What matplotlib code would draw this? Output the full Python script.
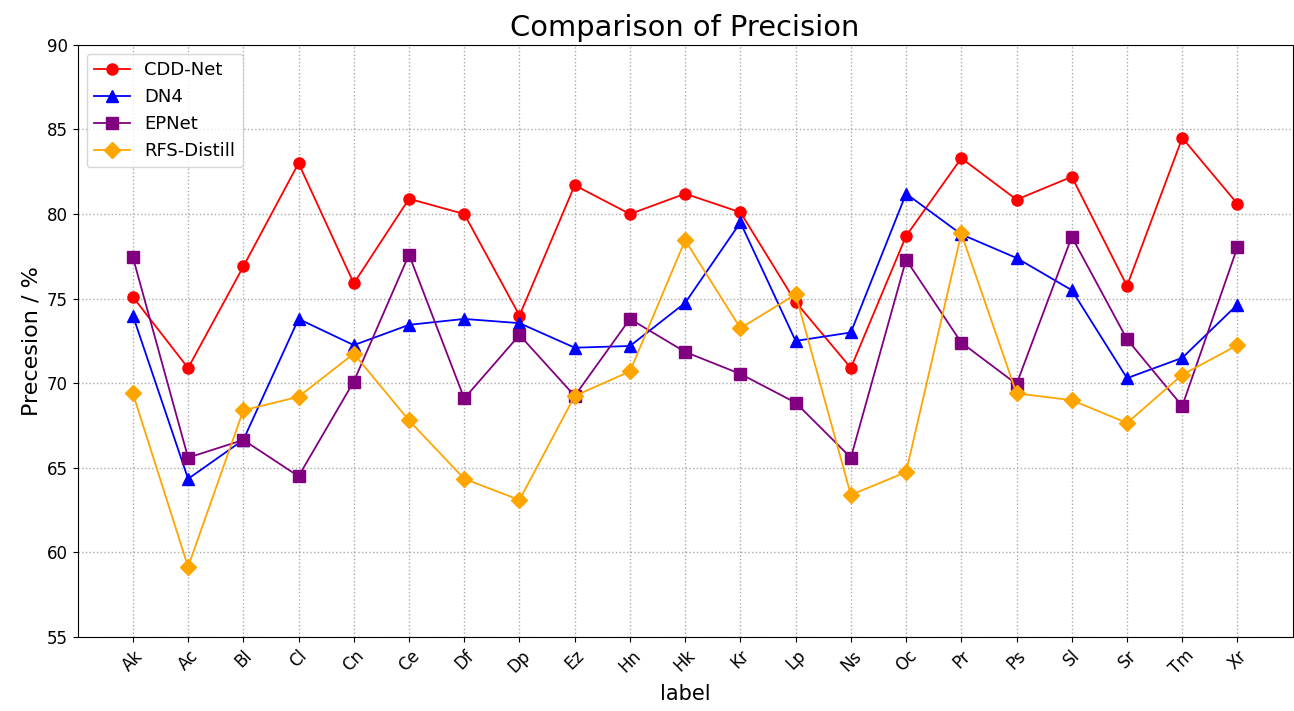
import matplotlib
matplotlib.use("Agg")
import matplotlib.pyplot as plt

labels = ["Ak", "Ac", "Bl", "Cl", "Cn", "Ce", "Df", "Dp", "Ez", "Hn", "Hk",
          "Kr", "Lp", "Ns", "Oc", "Pr", "Ps", "Sl", "Sr", "Tm", "Xr"]
cdd_net = [75.1, 70.9, 76.9, 83.0, 75.9, 80.9, 80.0, 74.0, 81.7, 80.0, 81.2,
           80.1, 74.8, 70.9, 78.7, 83.3, 80.85, 82.2, 75.75, 84.5, 80.6]
dn4 = [74.0, 64.35, 66.65, 73.8, 72.25, 73.45, 73.8, 73.55, 72.1, 72.2, 74.75,
       79.5, 72.5, 73.0, 81.2, 78.8, 77.4, 75.5, 70.3, 71.5, 74.65]
epnet = [77.45, 65.6, 66.65, 64.5, 70.1, 77.6, 69.1, 72.85, 69.25, 73.8, 71.85,
         70.55, 68.85, 65.6, 77.3, 72.4, 69.95, 78.65, 72.6, 68.65, 78.05]
rfs_distill = [69.4, 59.15, 68.4, 69.2, 71.75, 67.8, 64.35, 63.1, 69.25, 70.7, 78.45,
               73.25, 75.25, 63.4, 64.75, 78.85, 69.4, 69.0, 67.65, 70.5, 72.25]

fig, ax = plt.subplots(figsize=(12.94, 7.11), dpi=100)
x = range(len(labels))
ax.plot(x, cdd_net, color="red", marker="o", markersize=8, linewidth=1.3, label="CDD-Net")
ax.plot(x, dn4, color="blue", marker="^", markersize=8, linewidth=1.3, label="DN4")
ax.plot(x, epnet, color="purple", marker="s", markersize=8, linewidth=1.3, label="EPNet")
ax.plot(x, rfs_distill, color="orange", marker="D", markersize=8, linewidth=1.3, label="RFS-Distill")

ax.set_xticks(list(x))
ax.set_xticklabels(labels, rotation=45, fontsize=12)
ax.tick_params(axis="y", labelsize=12)
ax.set_ylim(55, 90)
ax.set_yticks([55, 60, 65, 70, 75, 80, 85, 90])
ax.set_xlabel("label", fontsize=15)
ax.set_ylabel("Precesion / %", fontsize=16)
ax.set_title("Comparison of Precision", fontsize=20.8)
ax.grid(True, linestyle=":", color="#aaaaaa", linewidth=1)
ax.legend(loc="upper left", fontsize=13)

fig.subplots_adjust(left=0.06, right=0.999, top=0.937, bottom=0.104)
fig.savefig("out.png", dpi=100)
